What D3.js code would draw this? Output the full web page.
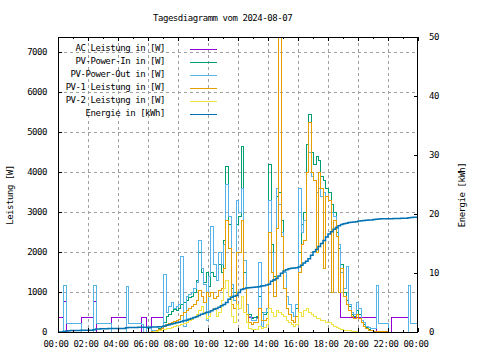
<!DOCTYPE html>
<html><head><meta charset="utf-8">
<script src="https://cdn.jsdelivr.net/npm/d3@7/dist/d3.min.js"></script>
<style>
body{margin:0;background:#fff}
svg text{font-family:"DejaVu Sans Mono",monospace;font-size:9px;fill:#000;letter-spacing:-0.45px}
</style></head><body>
<svg id="c" width="480" height="360"></svg>
<script>
const chartTitle = "Tagesdiagramm vom 2024-08-07";
const yLabel = "Leistung [W]";
const y2Label = "Energie [kWh]";
const xTickHours = [0,2,4,6,8,10,12,14,16,18,20,22,24];
const xTickLabels = ["00:00","02:00","04:00","06:00","08:00","10:00","12:00","14:00","16:00","18:00","20:00","22:00","00:00"];
const yTicks = [0,1000,2000,3000,4000,5000,6000,7000];
const y2Ticks = [0,10,20,30,40,50];
const seriesNames = ["AC Leistung in [W]","PV-Power-In in [W]","PV-Power-Out in [W]","PV-1 Leistung in [W]","PV-2 Leistung in [W]","Energie in [kWh]"];
const seriesColors = ["#9400d3","#009e73","#56b4e9","#e69f00","#f0e442","#0072b2"];
const slotMinutes = 10; // one value per 10-minute slot, 00:00 .. 24:00

const acPower = [
367,367,767,0,0,0, 0,0,0,367,367,367, 367,367,767,0,0,0, 0,0,0,367,367,367,
367,367,367,0,0,0, 0,0,0,367,367,0, 0,367,367,367,367,367, 1460,500,650,750,600,650,
700,1900,150,900,950,1000, 1100,1250,2300,1600,1200,300, 1400,2650,1700,1300,2000,1700, 2200,3700,2900,1200,800,3300,
3000,3600,1800,700,367,367, 367,367,1750,150,500,600, 3300,2000,1300,3600,3200,2500, 1500,900,700,500,400,700,
3600,2500,2800,4000,4500,3900, 3800,3500,3600,3400,3500,3400, 3300,3000,2900,2600,2200,367, 367,367,367,367,367,367,
367,367,367,367,367,367, 367,0,0,0,0,0, 0,367,367,367,367,367, 367,367,0,0,0,0, 0];

const pvPowerIn = [
0,0,0,0,0,0, 0,0,0,0,0,0, 0,0,0,0,0,0, 0,0,0,0,0,0,
0,0,0,0,0,0, 0,0,0,0,0,0, 0,0,30,60,100,150, 250,400,450,520,580,560,
600,700,750,800,870,900, 1000,1300,2000,1500,1250,1500, 1150,1500,1400,1300,1700,1500, 2300,4150,2700,1100,1000,2700,
2900,4650,1500,700,450,350, 380,400,900,500,450,500, 4200,2200,1400,3400,3500,2800, 1500,900,700,500,400,600,
2000,2700,3000,4700,5450,4500, 4200,4400,4300,3900,3800,3600, 3500,3200,3000,2500,2100,1700, 1000,800,650,450,400,550,
450,300,200,120,80,50, 30,20,0,0,0,0, 0,0,0,0,0,0, 0,0,0,0,0,0, 0];

const pvPowerOut = [
0,0,1167,225,225,225, 225,225,225,0,0,0, 0,0,1167,225,225,225, 225,225,225,0,0,0,
0,0,0,1150,225,225, 225,225,225,190,0,100, 100,50,50,60,80,100, 1460,500,650,750,600,650,
700,1900,150,900,950,1000, 1100,1250,2300,1600,1200,300, 1400,2650,1700,1300,2000,1700, 2200,3700,2900,1200,800,3300,
3000,3600,1800,700,400,300, 300,350,1750,150,500,600, 3300,2000,1300,3600,3200,2500, 1500,900,700,500,400,700,
3600,2500,2800,4000,4500,3900, 3800,3500,3600,3400,3500,3400, 3300,3000,2900,2600,2200,1500, 1100,1650,700,500,450,750,
600,300,250,150,120,100, 100,1170,225,225,225,225, 0,0,0,0,0,0, 0,0,1170,225,225,225, 225];

const pv1Power = [
0,0,0,0,0,0, 0,0,0,0,0,0, 0,0,0,0,0,0, 0,0,0,0,0,0,
0,0,0,0,0,0, 0,0,0,0,0,0, 0,20,30,50,80,110, 150,200,220,250,270,300,
330,420,500,560,600,650, 700,800,1050,900,750,1000, 900,1000,850,900,1050,1100, 1600,2800,2100,700,600,2000,
2000,2800,1100,450,250,200, 250,250,600,300,300,350, 2500,1500,900,2600,7400,2400, 1100,600,450,300,250,400,
1500,2200,2300,4000,5250,4000, 3800,2000,4000,3600,1600,3400, 3300,1000,2800,2400,1000,1600, 900,700,550,400,350,450,
350,250,150,100,60,40, 30,20,20,20,20,20, 0,0,0,0,0,0, 0,0,0,0,0,0, 0];

const pv2Power = [
0,0,0,0,0,0, 0,0,0,0,0,0, 0,0,0,0,0,0, 0,0,0,0,0,0,
0,0,0,0,0,0, 0,0,0,0,0,0, 0,10,20,30,50,60, 80,100,110,130,150,170,
180,200,230,260,300,330, 380,450,550,650,500,350, 400,550,600,400,500,800, 1100,1300,900,400,250,700,
600,900,500,250,100,80, 70,80,150,100,130,200, 600,500,400,550,500,450, 400,300,250,200,150,200,
500,400,550,600,500,450, 400,350,350,300,300,250, 250,200,150,120,100,80, 60,50,40,30,20,20,
10,0,0,0,0,0, 0,0,0,0,0,0, 0,0,0,0,0,0, 0,0,0,0,0,0, 0];

const energyKWh = [
0,0,0.1,0.15,0.2,0.25, 0.25,0.25,0.27,0.3,0.3,0.3, 0.3,0.3,0.4,0.5,0.52,0.55, 0.55,0.57,0.6,0.6,0.6,0.6,
0.6,0.6,0.6,0.7,0.75,0.75, 0.78,0.78,0.8,0.8,0.8,0.8, 0.82,0.85,0.85,0.85,0.87,0.9, 1.0,1.15,1.25,1.35,1.45,1.55,
1.65,1.8,1.9,2.0,2.15,2.3, 2.45,2.6,2.8,3.0,3.15,3.3, 3.4,3.6,3.85,4.0,4.2,4.45, 4.65,5.0,5.55,5.9,6.05,6.2,
6.7,7.2,7.35,7.45,7.5,7.55, 7.6,7.62,7.65,7.8,7.85,7.95, 8.1,8.6,8.85,9.05,9.5,9.95, 10.35,10.55,10.7,10.8,10.85,10.9,
11.0,11.3,11.7,12.0,12.4,13.0, 13.6,14.0,14.5,15.0,15.5,16.1, 16.6,17.0,17.4,17.7,18.0,18.2, 18.35,18.45,18.55,18.6,18.65,18.7,
18.8,18.85,18.9,18.95,19.0,19.0, 19.05,19.1,19.15,19.2,19.2,19.2, 19.2,19.2,19.25,19.25,19.25,19.3, 19.3,19.3,19.35,19.4,19.45,19.45, 19.45];

const plot = {left:58, right:418, top:37, bottom:332};
const svg = d3.select("#c");
const x = d3.scaleLinear().domain([0,24]).range([plot.left, plot.right]);
const y = d3.scaleLinear().domain([0,7375]).range([plot.bottom, plot.top]);
const y2 = d3.scaleLinear().domain([0,50]).range([plot.bottom, plot.top]);
const slotHour = i => i * slotMinutes / 60;

svg.append("defs").append("clipPath").attr("id","clip")
  .append("rect").attr("x",plot.left).attr("y",plot.top)
  .attr("width",plot.right-plot.left).attr("height",plot.bottom-plot.top);

// grid
const grid = svg.append("g").attr("stroke","#a0a0a0").attr("stroke-dasharray","3,3").attr("shape-rendering","crispEdges");
xTickHours.filter(h => h>0 && h<24).forEach(h => grid.append("line")
  .attr("x1",Math.round(x(h))+0.5).attr("x2",Math.round(x(h))+0.5).attr("y1",plot.top).attr("y2",plot.bottom));
yTicks.filter(v => v>0).forEach(v => grid.append("line")
  .attr("y1",Math.round(y(v))+0.5).attr("y2",Math.round(y(v))+0.5).attr("x1",plot.left).attr("x2",plot.right));

// series
const series = [acPower, pvPowerIn, pvPowerOut, pv1Power, pv2Power];
const g = svg.append("g").attr("clip-path","url(#clip)");
series.forEach((vals, k) => {
  const line = d3.line().x((d,i)=>Math.round(x(slotHour(i)))+0.5).y(d=>Math.round(y(d))+0.5).curve(d3.curveStepAfter);
  g.append("path").datum(vals).attr("d",line).attr("fill","none")
    .attr("stroke",seriesColors[k]).attr("stroke-width",1).attr("shape-rendering","crispEdges");
});
const eLine = d3.line().x((d,i)=>x(slotHour(i))).y(d=>y2(d)).curve(d3.curveStepAfter);
g.append("path").datum(energyKWh).attr("d",eLine).attr("fill","none")
  .attr("stroke",seriesColors[5]).attr("stroke-width",1.5);

// border
svg.append("rect").attr("x",plot.left+0.5).attr("y",plot.top+0.5)
  .attr("width",plot.right-plot.left-1).attr("height",plot.bottom-plot.top)
  .attr("fill","none").attr("stroke","#000").attr("shape-rendering","crispEdges");

// ticks
const tk = svg.append("g").attr("stroke","#000").attr("shape-rendering","crispEdges");
d3.range(0,25,1).forEach(h => {
  const len = h%2===0 ? 4 : 2;
  const xx = Math.round(x(h))+0.5;
  tk.append("line").attr("x1",xx).attr("x2",xx).attr("y1",plot.bottom).attr("y2",plot.bottom-len);
  tk.append("line").attr("x1",xx).attr("x2",xx).attr("y1",plot.top).attr("y2",plot.top+len);
});
yTicks.forEach(v => {
  const yy = Math.round(y(v))+0.5;
  tk.append("line").attr("x1",plot.left).attr("x2",plot.left+4).attr("y1",yy).attr("y2",yy);
});
y2Ticks.forEach(v => {
  const yy = Math.round(y2(v))+0.5;
  tk.append("line").attr("x1",plot.right).attr("x2",plot.right-4).attr("y1",yy).attr("y2",yy);
});

// tick labels
xTickHours.forEach((h,i) => svg.append("text").attr("x",x(h)-2).attr("y",347)
  .attr("text-anchor","middle").text(xTickLabels[i]));
yTicks.forEach(v => svg.append("text").attr("x",47).attr("y",y(v)+3)
  .attr("text-anchor","end").text(v));
y2Ticks.forEach(v => svg.append("text").attr("x",429).attr("y",y2(v)+3)
  .attr("text-anchor","start").text(v));

// titles
svg.append("text").attr("x",153).attr("y",21).text(chartTitle);
svg.append("text").attr("transform","translate(13,195) rotate(-90)").attr("text-anchor","middle").text(yLabel);
svg.append("text").attr("transform","translate(465,195) rotate(-90)").attr("text-anchor","middle").text(y2Label);

// legend
seriesNames.forEach((n,k) => {
  const yy = 49 + k*13;
  svg.append("text").attr("x",165).attr("y",yy+2).attr("text-anchor","end").text(n);
  svg.append("rect").attr("x",190).attr("width",27).attr("y",yy).attr("height",1)
    .attr("fill",seriesColors[k]).attr("shape-rendering","crispEdges");
});
</script>
</body></html>
